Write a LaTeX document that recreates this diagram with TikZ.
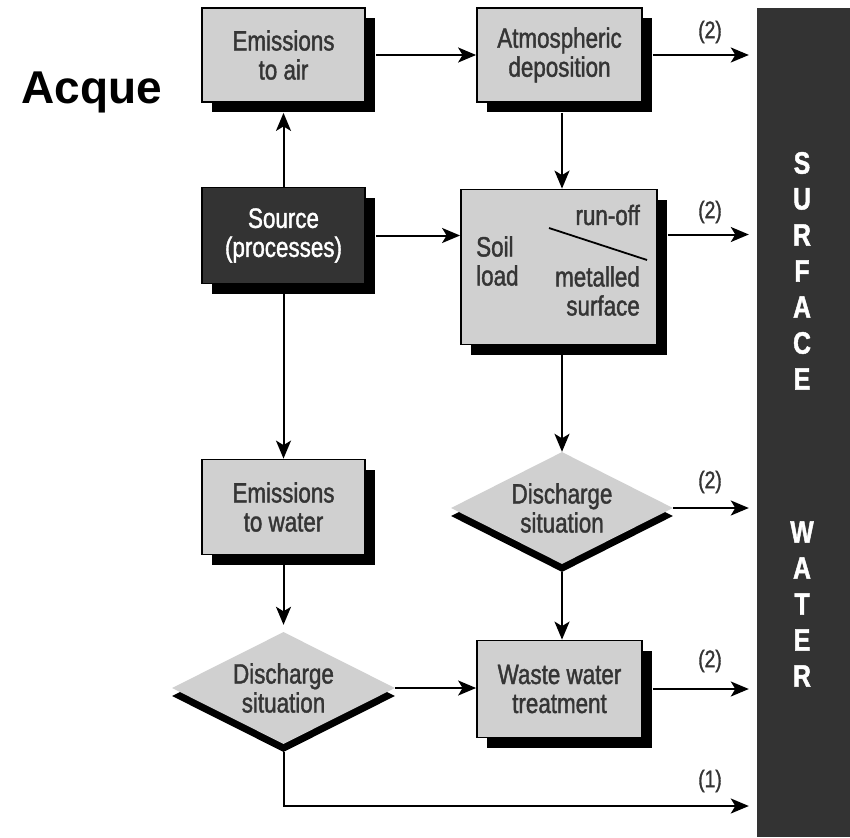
\documentclass[tikz,border=0pt]{standalone}
\usepackage{fontspec}
\setmainfont{Liberation Sans}[FakeStretch=0.8,FakeBold=1.4]
\newfontfamily\plainsans{Liberation Sans}
\usetikzlibrary{arrows.meta,shapes.geometric,shadows,calc}
\definecolor{boxgray}{HTML}{D0D0D0}
\definecolor{darkbox}{HTML}{333333}
\definecolor{txtgray}{HTML}{353535}
\begin{document}
\begin{tikzpicture}[x=1pt,y=-1pt,
  box/.style={rectangle,draw=black,line width=1.8pt,fill=boxgray,inner sep=0pt,align=center,
    text=txtgray,font=\fontsize{28}{29}\selectfont,
    drop shadow={shadow xshift=10pt,shadow yshift=-10pt,fill=black,opacity=1}},
  dia/.style={diamond,aspect=2,fill=boxgray,inner sep=0pt,align=center,
    text=txtgray,font=\fontsize{28}{29}\selectfont,
    drop shadow={shadow xshift=0pt,shadow yshift=-8pt,fill=black,opacity=1}},
  arr/.style={line width=2pt,-{Stealth[length=18pt,width=15pt,inset=4.5pt]}},
  lab/.style={text=txtgray,font=\fontsize{24}{25}\selectfont},
  boxtxt/.style={text=txtgray,font=\fontsize{28}{29}\selectfont,inner sep=0pt},
  wletter/.style={text=white,font=\fontsize{31}{31}\bfseries\selectfont,inner sep=0pt}]
\useasboundingbox (0,0) rectangle (850,837);
\fill[white] (0,0) rectangle (850,837);

% title
\node[anchor=base,font=\plainsans\bfseries\fontsize{46}{50}\selectfont] (title) at (92,104) {Acque};

% surface water bar
\node[rectangle,fill=darkbox,inner sep=0pt,minimum width=93pt,minimum height=829pt] (bar) at (803.5,422.5) {};
\foreach \l [count=\i from 0] in {S,U,R,F,A,C,E}
  \node[wletter] (sw\i) at (802,{163+36*\i}) {\l};
\foreach \l [count=\i from 0] in {W,A,T,E,R}
  \node[wletter] (wa\i) at (802,{532+36*\i}) {\l};

% boxes
\node[box,minimum width=163pt,minimum height=94pt] (air) at (283.5,55) {Emissions\\to air};
\node[box,minimum width=165pt,minimum height=94pt] (atm) at (559.5,55) {Atmospheric\\deposition};
\node[box,fill=darkbox,text=white,minimum width=163pt,minimum height=96pt] (src) at (283.5,235.5) {Source\\(processes)};
\node[box,minimum width=196pt,minimum height=155pt] (soil) at (559,267) {};
\node[box,minimum width=163pt,minimum height=95pt] (ewater) at (283.5,507) {Emissions\\to water};
\node[box,minimum width=165pt,minimum height=97pt] (wwt) at (559.5,689) {Waste water\\treatment};
\node[dia,minimum width=222pt,minimum height=112pt] (dis1) at (562,508) {Discharge\\situation};
\node[dia,minimum width=223pt,minimum height=112pt] (dis2) at (283.5,688) {Discharge\\situation};

% soil box contents
\node[boxtxt,align=left,anchor=west] (soiltxt) at (476,261) {Soil\\load};
\node[boxtxt,anchor=east] (runoff) at (640,215) {run-off};
\node[boxtxt,align=right,anchor=east] (metal) at (640,291) {metalled\\surface};
\draw[line width=1.8pt] (549,228) -- (647,260);

% connectors
\draw[arr] ($(air.east)+(10,0)$) -- (atm.west);
\draw[arr] (src.north) -- ($(air.south)+(0,10)$);
\draw[arr] ($(src.east)+(10,0)$) -- (src.east -| soil.west);
\draw[arr] ($(atm.south -| dis1.north)+(0,10)$) -- (soil.north -| dis1.north);
\draw[arr] ($(soil.south -| dis1.north)+(0,10)$) -- (dis1.north);
\draw[arr] ($(dis1.south)+(0,8)$) -- (wwt.north -| dis1.south);
\draw[arr] (src.south) -- (ewater.north);
\draw[arr,shorten >=7pt] ($(ewater.south)+(0,10)$) -- (dis2.north);
\draw[arr] (dis2.east) -- (dis2.east -| wwt.west);

% outputs to surface water
\draw[arr] ($(atm.east)+(10,0)$) -- ($(atm.east -| bar.west)+(-8,0)$);
\draw[arr] ($(soil.east)+(10,-32.5)$) -- ($(soil.east -| bar.west)+(-8,-32.5)$);
\draw[arr] (dis1.east) -- ($(dis1.east -| bar.west)+(-8,0)$);
\draw[arr] ($(wwt.east)+(10,0)$) -- ($(wwt.east -| bar.west)+(-8,0)$);
\coordinate (corner) at (283.5,806);
\draw[arr] ($(dis2.south)+(0,8)$) -- (corner) -- ($(corner -| bar.west)+(-8,0)$);

% labels
\node[lab] (l1) at (710,32) {(2)};
\node[lab] (l2) at (710,212) {(2)};
\node[lab] (l3) at (710,482) {(2)};
\node[lab] (l4) at (710,661) {(2)};
\node[lab] (l5) at (710,781) {(1)};
\end{tikzpicture}
\end{document}
